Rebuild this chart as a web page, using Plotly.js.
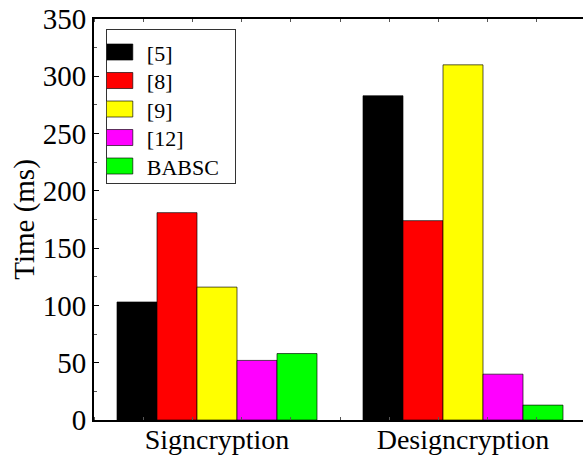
<!DOCTYPE html>
<html>
<head>
<meta charset="utf-8">
<script src="https://cdn.plot.ly/plotly-3.0.1.min.js"></script>
<style>html,body{margin:0;padding:0;overflow:hidden;background:#fff;}</style>
</head>
<body>
<div id="chart" style="width:590px;height:459px;"></div>
<script>
const categories = ["Signcryption", "Designcryption"];
const catPos = [0, 1];
const seriesNames = ["[5]", "[8]", "[9]", "[12]", "BABSC"];
const s5 = [103, 283];
const s8 = [181, 174];
const s9 = [116, 310];
const s12 = [52, 40];
const sBABSC = [58, 13];
const seriesValues = [s5, s8, s9, s12, sBABSC];
const colors = ["#000000", "#ff0000", "#ffff00", "#ff00ff", "#00ff00"];
const yTicks = [0, 50, 100, 150, 200, 250, 300, 350];

const font = "Liberation Serif";
const traces = seriesNames.map((n, i) => ({
  type: "bar",
  name: n,
  x: catPos,
  y: seriesValues[i],
  marker: {color: colors[i], line: {color: "rgba(0,0,0,0.65)", width: 1}}
}));

const layout = {
  width: 590, height: 459,
  margin: {l: 94, r: 4, t: 19, b: 39},
  paper_bgcolor: "#fff", plot_bgcolor: "#fff",
  barmode: "group", bargap: 0.187, bargroupgap: 0,
  font: {family: font, color: "#000"},
  showlegend: true,
  legend: {
    x: 0.024, y: 0.975, xanchor: "left", yanchor: "top",
    bordercolor: "#333", borderwidth: 1, bgcolor: "#fff",
    font: {family: font, size: 22, color: "#000"},
    itemwidth: 30, tracegroupgap: 0
  },
  xaxis: {
    range: [-0.5, 1.5],
    tickmode: "array", tickvals: catPos, ticktext: categories,
    ticks: "", showgrid: false, zeroline: false,
    showline: true, linecolor: "#000", linewidth: 2, mirror: "ticks",
    ticklabelstandoff: -7,
    tickfont: {family: font, size: 28, color: "#000"},
    minor: {tickmode: "linear", tick0: -0.5, dtick: 0.2, ticks: "inside", ticklen: 3, tickcolor: "#555", showgrid: false}
  },
  yaxis: {
    range: [0, 350],
    tickmode: "array", tickvals: yTicks,
    ticks: "inside", ticklen: 5, tickcolor: "#000",
    showgrid: false, zeroline: false,
    showline: true, linecolor: "#000", linewidth: 2,
    tickfont: {family: font, size: 29, color: "#000"},
    title: {text: "Time (ms)", font: {family: font, size: 29, color: "#000"}, standoff: 0},
    minor: {dtick: 25, ticks: "inside", ticklen: 3, tickcolor: "#555", showgrid: false}
  }
};

Plotly.newPlot("chart", traces, layout, {displayModeBar: false, staticPlot: true}).then(() => {
  document.querySelectorAll("#chart .legendpoints path").forEach(p => {
    p.setAttribute("d", "M6,8H-26V-8H6Z");
  });
  const items = document.querySelectorAll("#chart .legend .traces");
  const spacing = 28.5, first = 23;
  items.forEach((g, i) => {
    const t = g.getAttribute("transform") || "";
    const m = t.match(/translate\(([-\d.]+)[ ,]+([-\d.]+)\)/);
    const x = m ? parseFloat(m[1]) : 0;
    g.setAttribute("transform", "translate(" + x + "," + (first + spacing * i) + ")");
  });
  const bg = document.querySelector("#chart .legend .bg");
  if (bg) { bg.setAttribute("height", 154); bg.setAttribute("width", 129); }
  const bg2 = document.querySelector("#chart .legend .scrollbox");
  if (bg2) bg2.setAttribute("height", 154);
});
</script>
</body>
</html>
